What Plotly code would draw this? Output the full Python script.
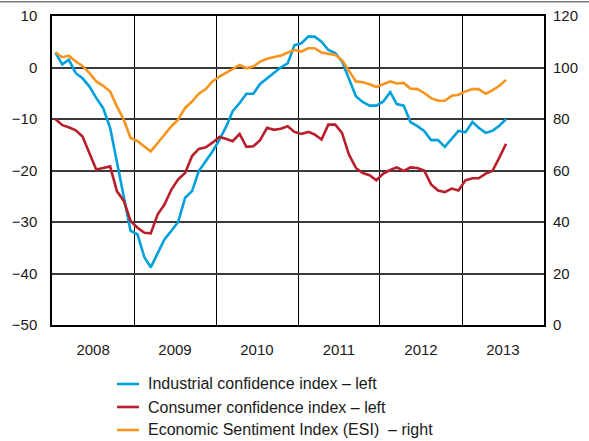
import pandas as pd
import plotly.graph_objects as go

# Monthly data, Jan 2008 - Jul 2013
start_month = "2008-01-01"
industrial = [2.9, 0.6, 1.5, -1.1, -2.1, -3.7, -5.9, -7.9, -11.7, -18.5, -25.0, -31.7,
              -32.4, -36.9, -38.8, -35.9, -33.4, -31.7, -30.0, -25.3, -24.0, -20.1, -18.2, -16.3,
              -14.0, -11.4, -8.5, -6.9, -5.1, -5.1, -3.2, -2.1, -1.1, 0.0, 0.8, 4.3,
              4.7, 6.0, 6.0, 5.0, 3.4, 2.8, 1.2, -2.4, -5.6, -6.7, -7.4, -7.4,
              -6.6, -4.8, -7.1, -7.4, -10.6, -11.4, -12.3, -14.1, -14.1, -15.4, -13.9, -12.3,
              -12.6, -10.6, -11.7, -12.7, -12.3, -11.3, -10.0]
consumer = [-10.0, -11.2, -11.6, -12.2, -13.4, -16.6, -19.8, -19.5, -19.2, -24.0, -25.9, -29.8,
            -31.1, -32.1, -32.2, -28.5, -26.6, -23.7, -21.7, -20.5, -17.2, -15.8, -15.5, -14.6,
            -13.5, -13.9, -14.3, -12.9, -15.4, -15.3, -14.1, -11.7, -12.1, -11.9, -11.4, -12.5,
            -12.9, -12.5, -13.0, -14.0, -11.1, -11.1, -12.7, -16.9, -19.5, -20.5, -20.9, -21.9,
            -20.6, -19.9, -19.4, -20.1, -19.4, -19.5, -20.0, -22.7, -23.9, -24.2, -23.5, -23.9,
            -21.9, -21.5, -21.5, -20.6, -20.1, -17.5, -14.8]
esi = [105.9, 104.0, 104.6, 102.3, 100.6, 97.8, 94.6, 92.9, 90.7, 84.9, 79.7, 72.6,
       71.4, 69.2, 67.4, 70.7, 73.9, 77.2, 79.7, 84.3, 86.8, 89.8, 91.6, 94.6,
       96.5, 98.1, 99.5, 101.0, 99.7, 100.4, 102.3, 103.4, 104.1, 104.6, 105.8, 106.8,
       106.2, 107.5, 107.5, 105.8, 105.3, 104.9, 102.9, 98.5, 94.6, 94.3, 93.5, 92.4,
       93.5, 94.6, 93.8, 94.0, 91.8, 91.6, 90.1, 88.1, 87.1, 87.1, 89.0, 89.4,
       90.7, 91.6, 91.6, 89.8, 91.1, 92.9, 95.2]
years = ["2008", "2009", "2010", "2011", "2012", "2013"]

names = ["Industrial confidence index – left",
         "Consumer confidence index – left",
         "Economic Sentiment Index (ESI)  – right"]
colors = ["#00a0dc", "#b81f2b", "#f7941d"]

dates = pd.date_range(start_month, periods=len(industrial), freq="MS") + pd.Timedelta(days=15)

FONT = "Liberation Sans, Arial, sans-serif"

fig = go.Figure()
fig.add_trace(go.Scatter(x=dates, y=industrial, name=names[0], mode="lines",
                         line=dict(color=colors[0], width=2.6)))
fig.add_trace(go.Scatter(x=dates, y=consumer, name=names[1], mode="lines",
                         line=dict(color=colors[1], width=2.6)))
fig.add_trace(go.Scatter(x=dates, y=esi, name=names[2], mode="lines", yaxis="y2",
                         line=dict(color=colors[2], width=2.6)))

# custom legend below the plot (paper coordinates)
shapes = [dict(type="line", xref="paper", yref="paper", x0=-0.2, x1=1.2,
               y0=1.046, y1=1.046, line=dict(color="#777777", width=1.5))]
annotations = []
leg_y = [-0.1909, -0.2654, -0.3398]
for name, col, ly in zip(names, colors, leg_y):
    shapes.append(dict(type="line", xref="paper", yref="paper", x0=0.1321, x1=0.1768,
                       y0=ly, y1=ly, line=dict(color=col, width=2.6)))
    annotations.append(dict(xref="paper", yref="paper", x=0.1911, y=ly, text=name,
                            showarrow=False, xanchor="left", yanchor="middle",
                            font=dict(family=FONT, size=16, color="#1a1a1a")))

fig.update_layout(
    width=589, height=441,
    margin=dict(l=52, r=45, t=16, b=116, autoexpand=False),
    paper_bgcolor="white", plot_bgcolor="white",
    font=dict(family=FONT, size=15, color="#1a1a1a"),
    showlegend=False,
    xaxis=dict(
        type="date",
        range=["2008-01-01", "2014-01-01"],
        tickmode="array",
        tickvals=[f"{y}-07-02" for y in years],
        ticktext=years,
        showgrid=False, ticks="", zeroline=False,
        showline=True, linecolor="black", linewidth=1.5, mirror=True,
        ticklabelstandoff=10,
        minor=dict(tickmode="array",
                   tickvals=[f"{y}-01-01" for y in years[1:]],
                   showgrid=True, gridcolor="black", gridwidth=1.3),
    ),
    yaxis=dict(
        range=[-50, 10], dtick=10, tick0=-50,
        showgrid=True, gridcolor="#3a3a3a", gridwidth=1.6,
        zeroline=False, ticks="",
        showline=True, linecolor="black", linewidth=1.5, mirror=True,
        ticklabelstandoff=10,
    ),
    yaxis2=dict(
        range=[0, 120], dtick=20, tick0=0, overlaying="y", side="right",
        showgrid=False, zeroline=False, ticks="", showline=False,
        ticklabelstandoff=8,
    ),
    shapes=shapes,
    annotations=annotations,
)

fig.write_html("out.html", config={"displayModeBar": False},
               post_script="document.body.style.margin='0';document.body.style.padding='0';")
